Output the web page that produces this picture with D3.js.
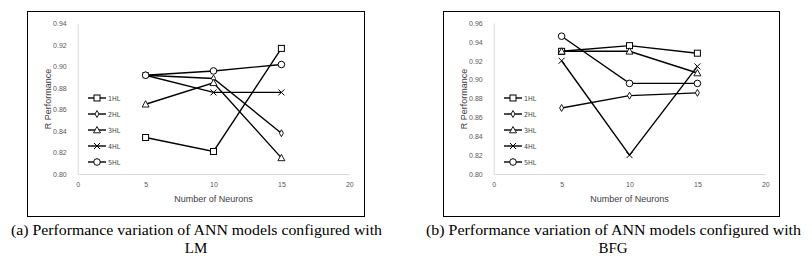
<!DOCTYPE html>
<html lang="en">
<head>
<meta charset="UTF-8">
<title>Performance variation of ANN models</title>
<style>
  body { margin: 0; background: #fff; }
  svg { display: block; }
  .tick text { font: 7px "Liberation Sans", Arial, sans-serif; fill: #595959; }
  .atitle { font: 9px "Liberation Sans", Arial, sans-serif; fill: #404040; }
  .leg { font: 7px "Liberation Sans Narrow", "DejaVu Sans Condensed", "Liberation Sans", sans-serif; fill: #404040; }
  .cap { font: 15px "Liberation Serif", "Times New Roman", serif; fill: #000; }
  .ser { fill: none; stroke: #000; stroke-width: 1.4; }
</style>
</head>
<body>
<svg id="chart" width="812" height="258"></svg>
<script src="https://d3js.org/d3.v7.min.js"></script>
<script>
// Data
const NEURONS = [5, 10, 15];
const SERIES = ["1HL", "2HL", "3HL", "4HL", "5HL"];
const MARKERS = ["square", "diamond", "triangle", "cross", "circle"];

const LM_1HL = [0.834, 0.821, 0.917];
const LM_2HL = [0.892, 0.889, 0.838];
const LM_3HL = [0.865, 0.885, 0.815];
const LM_4HL = [0.892, 0.876, 0.876];
const LM_5HL = [0.892, 0.896, 0.902];

const BFG_1HL = [0.930, 0.936, 0.928];
const BFG_2HL = [0.870, 0.883, 0.886];
const BFG_3HL = [0.930, 0.930, 0.907];
const BFG_4HL = [0.920, 0.820, 0.914];
const BFG_5HL = [0.946, 0.896, 0.896];

const X_TICKS = [0, 5, 10, 15, 20];
const LM_Y_TICKS = [0.80, 0.82, 0.84, 0.86, 0.88, 0.90, 0.92, 0.94];
const BFG_Y_TICKS = [0.80, 0.82, 0.84, 0.86, 0.88, 0.90, 0.92, 0.94, 0.96];

const PANELS = [
  { ox: 0,   box: [27, 364], yTicks: LM_Y_TICKS, top: 23.7,
    vals: [LM_1HL, LM_2HL, LM_3HL, LM_4HL, LM_5HL],
    cap: ["(a) Performance variation of ANN models configured with", "LM"] },
  { ox: 416, box: [443, 779], yTicks: BFG_Y_TICKS, top: 23,
    vals: [BFG_1HL, BFG_2HL, BFG_3HL, BFG_4HL, BFG_5HL],
    cap: ["(b) Performance variation of ANN models configured with", "BFG"] }
];

const svg = d3.select("#chart");

function marker(g, type, x, y) {
  if (type === "square") {
    g.append("rect").attr("x", x - 3).attr("y", y - 3).attr("width", 6).attr("height", 6)
      .attr("fill", "#fff").attr("stroke", "#000").attr("stroke-width", 1);
  } else if (type === "diamond") {
    g.append("path").attr("d", d3.symbol(d3.symbolDiamond, 14)())
      .attr("transform", `translate(${x},${y})`)
      .attr("fill", "#fff").attr("stroke", "#000").attr("stroke-width", 0.9);
  } else if (type === "triangle") {
    g.append("path").attr("d", `M${x},${y - 3.5}L${x + 3.5},${y + 2.8}L${x - 3.5},${y + 2.8}Z`)
      .attr("fill", "#fff").attr("stroke", "#000").attr("stroke-width", 0.9);
  } else if (type === "cross") {
    g.append("path").attr("d", `M${x - 3},${y - 3}L${x + 3},${y + 3}M${x - 3},${y + 3}L${x + 3},${y - 3}`)
      .attr("stroke", "#000").attr("stroke-width", 1);
  } else {
    g.append("circle").attr("cx", x).attr("cy", y).attr("r", 3.3)
      .attr("fill", "#fff").attr("stroke", "#000").attr("stroke-width", 1);
  }
}

PANELS.forEach(p => {
  const g = svg.append("g");
  // frame
  g.append("rect").attr("x", p.box[0] + 0.5).attr("y", 11.5)
    .attr("width", p.box[1] - p.box[0]).attr("height", 205)
    .attr("fill", "none").attr("stroke", "#000").attr("stroke-width", 1);

  const x = d3.scaleLinear().domain([0, 20]).range([p.ox + 77.7, p.ox + 349.3]);
  const y = d3.scaleLinear().domain([0.80, d3.max(p.yTicks)]).range([174, p.top]);

  // x axis
  const xa = g.append("g").attr("transform", "translate(0,174)")
    .call(d3.axisBottom(x).tickValues(X_TICKS).tickSize(0).tickPadding(8).tickFormat(d3.format("d")));
  xa.select(".domain").attr("stroke", "#d9d9d9").attr("stroke-width", 1);
  // y axis
  const ya = g.append("g").attr("transform", `translate(${x(0)},0)`)
    .call(d3.axisLeft(y).tickValues(p.yTicks).tickSize(0).tickPadding(11).tickFormat(d3.format(".2f")));
  ya.select(".domain").attr("stroke", "#d9d9d9").attr("stroke-width", 1);

  g.append("text").attr("class", "atitle").attr("text-anchor", "middle")
    .attr("x", x(10)).attr("y", 202).text("Number of Neurons");
  g.append("text").attr("class", "atitle").attr("text-anchor", "middle")
    .attr("transform", `translate(${p.ox + 51},${99}) rotate(-90)`).text("R Performance");

  const line = d3.line().x((d, i) => x(NEURONS[i])).y(d => y(d));
  p.vals.forEach((v, k) => {
    g.append("path").attr("class", "ser").attr("d", line(v));
  });
  p.vals.forEach((v, k) => {
    v.forEach((d, i) => marker(g, MARKERS[k], x(NEURONS[i]), y(d)));
  });

  // legend
  SERIES.forEach((s, k) => {
    const ly = 98 + k * 16;
    const lx = p.ox + 88;
    g.append("line").attr("x1", lx).attr("x2", lx + 18).attr("y1", ly).attr("y2", ly)
      .attr("stroke", "#000").attr("stroke-width", 1.4);
    marker(g, MARKERS[k], lx + 9, ly);
    g.append("text").attr("class", "leg").attr("x", lx + 20).attr("y", ly + 2.5).text(s);
  });

  // caption
  const cx = (p.box[0] + p.box[1]) / 2 + (p.ox ? 30 : 30);
  g.append("text").attr("class", "cap").attr("x", p.ox ? 426 : 11).attr("y", 235)
    .attr("textLength", p.ox ? 375 : 371).attr("lengthAdjust", "spacingAndGlyphs")
    .text(p.cap[0]);
  g.append("text").attr("class", "cap").attr("text-anchor", "middle")
    .attr("x", p.ox ? 613 : 196).attr("y", 253).text(p.cap[1]);
});
</script>
</body>
</html>
